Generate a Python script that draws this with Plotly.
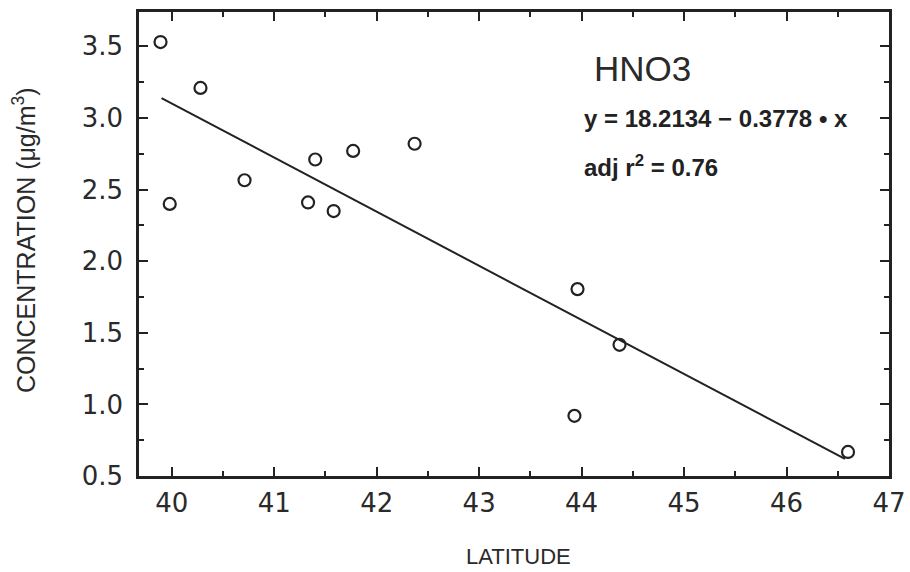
import plotly.graph_objects as go

# Data
latitude = [39.89, 39.98, 40.28, 40.71, 41.33, 41.40, 41.58, 41.77, 42.37, 43.96, 44.37, 43.93, 46.60]
concentration = [3.53, 2.40, 3.21, 2.565, 2.41, 2.71, 2.35, 2.77, 2.82, 1.805, 1.416, 0.92, 0.668]

# Regression line end points (y = 18.2134 - 0.3778*x)
fit_x = [39.90, 46.57]
fit_y = [3.139, 0.619]

x_ticks = [40, 41, 42, 43, 44, 45, 46, 47]
y_ticks = [0.5, 1.0, 1.5, 2.0, 2.5, 3.0, 3.5]

ink = "#222222"
tick_font = dict(family="DejaVu Sans, Liberation Sans, sans-serif", size=26, color="#2a2a2a")

fig = go.Figure()
fig.add_trace(go.Scatter(x=fit_x, y=fit_y, mode="lines",
                         line=dict(color=ink, width=2), hoverinfo="skip", showlegend=False))
fig.add_trace(go.Scatter(x=latitude, y=concentration, mode="markers",
                         marker=dict(symbol="circle-open", size=12, color=ink, line=dict(width=2.2)),
                         showlegend=False))

axis_common = dict(showline=True, linecolor=ink, linewidth=2.5, mirror="ticks",
                   ticks="inside", ticklen=9, tickwidth=2, tickcolor=ink, automargin=False,
                   showgrid=False, zeroline=False, tickfont=tick_font)

fig.update_xaxes(range=[39.68, 47.0], tickvals=x_ticks, ticktext=[str(v) for v in x_ticks],
                 minor=dict(ticks="inside", ticklen=5, tickwidth=2, tickcolor=ink, dtick=0.5, tick0=40),
                 ticklabelstandoff=2, **axis_common)
fig.update_yaxes(range=[0.5, 3.74], tickvals=y_ticks, ticktext=[f"{v:.1f}" for v in y_ticks],
                 minor=dict(ticks="inside", ticklen=5, tickwidth=2, tickcolor=ink, dtick=0.25, tick0=0.5),
                 ticklabelstandoff=8, **axis_common)

annotations = [
    dict(text="LATITUDE", x=518, y=556, showarrow=False,
         font=dict(family="Liberation Sans, Arial, sans-serif", size=22, color="#2a2a2a")),
    dict(text="CONCENTRATION (μg/m<sup>3</sup>)", x=24, y=240, textangle=-90, showarrow=False,
         font=dict(family="Liberation Sans, Arial, sans-serif", size=25, color="#2a2a2a")),
    dict(text="HNO3", x=642, y=68, showarrow=False,
         font=dict(family="Liberation Sans, Arial, sans-serif", size=35, color="#2a2a2a")),
    dict(text="<b>y = 18.2134 − 0.3778 • x</b>", x=582, y=118, xanchor="left", showarrow=False,
         font=dict(family="Liberation Sans, Arial, sans-serif", size=24, color="#222222")),
    dict(text="<b>adj r<sup>2</sup> = 0.76</b>", x=582, y=166, xanchor="left", showarrow=False,
         font=dict(family="Liberation Sans, Arial, sans-serif", size=24, color="#222222")),
]

W, H = 910, 572
L, R, T, B = 139, 21, 12, 96
for a in annotations:
    a["xref"] = "paper"
    a["yref"] = "paper"
    a.setdefault("xanchor", "center")
    a["yanchor"] = "middle"
    a["x"] = (a["x"] - L) / (W - L - R)
    a["y"] = 1 - (a["y"] - T) / (H - T - B)

fig.update_layout(width=W, height=H, margin=dict(l=L, r=R, t=T, b=B, autoexpand=False),
                  paper_bgcolor="white", plot_bgcolor="white",
                  annotations=annotations, showlegend=False)

fig.write_html("out.html")
